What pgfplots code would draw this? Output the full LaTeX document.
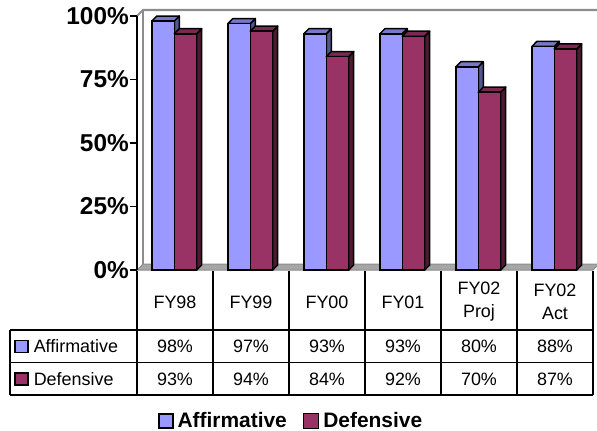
\documentclass[border=0pt]{standalone}
\usepackage{pgfplots}
\pgfplotsset{compat=1.18}
\usepackage{pgfplotstable}
\usepackage{fontspec}
\setmainfont{Liberation Sans}
\definecolor{affFront}{HTML}{9999FF}
\definecolor{affTop}{HTML}{7878C8}
\definecolor{affSide}{HTML}{55558F}
\definecolor{defFront}{HTML}{993366}
\definecolor{defTop}{HTML}{7A2952}
\definecolor{defSide}{HTML}{4D1A33}
\definecolor{wallGray}{HTML}{8C8C8C}
\definecolor{floorGray}{HTML}{A6A6A6}

\pgfplotstableread{
idx aff def
0 98 93
1 97 94
2 93 84
3 93 92
4 80 70
5 88 87
}\datatable

\newcommand\tablefont{\fontsize{18}{23}\selectfont}

\begin{document}
\begin{tikzpicture}
\useasboundingbox (0,0) rectangle (597bp,-431bp);
% walls and floor (pixel coordinates, y downward)
\begin{scope}[x=1bp,y=-1bp]
  \filldraw[fill=floorGray, draw=wallGray, line width=1bp] (137,270) -- (143,264) -- (599,264) -- (593,270) -- cycle;
  \draw[wallGray, line width=2bp] (137,16) -- (143,10) -- (600,10);
  \draw[wallGray, line width=2bp] (143,10) -- (143,264);
\end{scope}
\begin{axis}[
  at={(137bp,-270bp)}, anchor=south west,
  width=456bp, height=254bp, scale only axis,
  xmin=-0.5, xmax=5.5, ymin=0, ymax=100,
  axis x line=none, axis y line*=left,
  axis line style={black, line width=1.5bp},
  ytick={0,25,50,75,100},
  yticklabels={0\%,25\%,50\%,75\%,100\%},
  tick align=outside, major tick length=7bp,
  tick style={black, line width=1.5bp},
  yticklabel style={font=\bfseries\fontsize{24.5}{24.5}\selectfont, inner sep=1bp},
  clip=false, no markers,
  legend style={at={(0.338,-0.595)}, anchor=center, draw=none, fill=none,
    legend columns=2, font=\bfseries\fontsize{21}{24}\selectfont,
    /tikz/every odd column/.append style={column sep=2bp},
    /tikz/every even column/.append style={column sep=14bp}},
]
% Affirmative depth faces
\pgfplotsforeachungrouped \i in {0,...,5}{%
  \pgfplotstablegetelem{\i}{aff}\of\datatable \let\va\pgfplotsretval
  \pgfmathsetmacro\xl{\i-0.3045}%
  \pgfmathsetmacro\xr{\i-0.0095}%
  \pgfmathsetmacro\xld{\i-0.3045+0.066}%
  \pgfmathsetmacro\xrd{\i-0.0095+0.066}%
  \pgfmathsetmacro\vt{\va+2}%
  \edef\tmp{\noexpand\addplot[forget plot, fill=affSide, draw=black, line width=1.5bp, line join=round] coordinates {(\xr,0) (\xrd,2) (\xrd,\vt) (\xr,\va)} --cycle;
  \noexpand\addplot[forget plot, fill=affTop, draw=black, line width=1.5bp, line join=round] coordinates {(\xl,\va) (\xld,\vt) (\xrd,\vt) (\xr,\va)} --cycle;}%
  \tmp
}
\addplot[ybar, bar width=0.295, bar shift=-0.157, fill=affFront, draw=black, line width=1.5bp,
  legend image code/.code={\draw[fill=affFront, draw=black, line width=1.5bp] (0bp,-7bp) rectangle (14bp,7bp);}]
  table[x=idx, y=aff]{\datatable};
\addlegendentry{Affirmative}
% Defensive depth faces
\pgfplotsforeachungrouped \i in {0,...,5}{%
  \pgfplotstablegetelem{\i}{def}\of\datatable \let\va\pgfplotsretval
  \pgfmathsetmacro\xl{\i-0.0095}%
  \pgfmathsetmacro\xr{\i+0.2855}%
  \pgfmathsetmacro\xld{\i-0.0095+0.066}%
  \pgfmathsetmacro\xrd{\i+0.2855+0.066}%
  \pgfmathsetmacro\vt{\va+2}%
  \edef\tmp{\noexpand\addplot[forget plot, fill=defSide, draw=black, line width=1.5bp, line join=round] coordinates {(\xr,0) (\xrd,2) (\xrd,\vt) (\xr,\va)} --cycle;
  \noexpand\addplot[forget plot, fill=defTop, draw=black, line width=1.5bp, line join=round] coordinates {(\xl,\va) (\xld,\vt) (\xrd,\vt) (\xr,\va)} --cycle;}%
  \tmp
}
\addplot[ybar, bar width=0.295, bar shift=0.138, fill=defFront, draw=black, line width=1.5bp,
  legend image code/.code={\draw[fill=defFront, draw=black, line width=1.5bp] (0bp,-7.5bp) rectangle (15bp,7.5bp);}]
  table[x=idx, y=def]{\datatable};
\addlegendentry{Defensive}
\end{axis}
% data table
\begin{scope}[x=1bp,y=-1bp, line width=1.5bp]
  \draw (10,330) -- (593,330);
  \draw (10,362.5) -- (593,362.5);
  \draw (10,395) -- (593,395);
  \draw (10,330) -- (10,395);
  \foreach \xx in {137,213,289,365,441,517,593} \draw (\xx,271) -- (\xx,395);
  \begin{scope}[every node/.style={font=\tablefont, inner sep=0pt, align=center}]
    \node at (175,302) {FY98};
    \node at (251,302) {FY99};
    \node at (327,302) {FY00};
    \node at (403,302) {FY01};
    \node at (479,302) {FY02\\Proj};
    \node at (555,302) {FY02\\Act};
    \node at (175,346.5) {98\%};
    \node at (251,346.5) {97\%};
    \node at (327,346.5) {93\%};
    \node at (403,346.5) {93\%};
    \node at (479,346.5) {80\%};
    \node at (555,346.5) {88\%};
    \node at (175,379) {93\%};
    \node at (251,379) {94\%};
    \node at (327,379) {84\%};
    \node at (403,379) {92\%};
    \node at (479,379) {70\%};
    \node at (555,379) {87\%};
    \node[anchor=west] at (33,346.5) {Affirmative};
    \node[anchor=west] at (33,379) {Defensive};
  \end{scope}
  \filldraw[fill=affFront, draw=black, line width=1.2bp] (15,340.5) rectangle (28,352.5);
  \filldraw[fill=defFront, draw=black, line width=1.2bp] (15,373) rectangle (28,385);
\end{scope}
\end{tikzpicture}
\end{document}
